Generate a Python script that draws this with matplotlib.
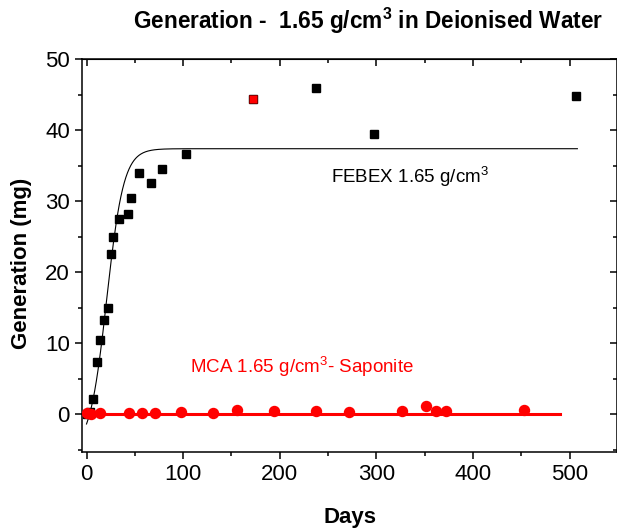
import numpy as np
import matplotlib
matplotlib.use("Agg")
import matplotlib.pyplot as plt
from matplotlib.ticker import MultipleLocator

plt.rcParams['font.family'] = ['Liberation Sans', 'DejaVu Sans']
plt.rcParams['mathtext.fontset'] = 'custom'
plt.rcParams['mathtext.rm'] = 'Liberation Sans'
plt.rcParams['mathtext.bf'] = 'Liberation Sans:bold'

W, H = 617, 529

# FEBEX 1.65 g/cm3 (black squares)
febex_days = [0, 4, 7, 11, 14, 17.7, 21.8, 25, 27.7, 34, 42.6, 46, 54.6, 67, 78, 103,
              172.7, 238, 298, 507]
febex_gen = [0.0, 0.3, 2.1, 7.35, 10.5, 13.3, 15.0, 22.5, 25.0, 27.5, 28.2, 30.4, 34.0,
             32.5, 34.5, 36.6, 44.35, 45.9, 39.5, 44.8]

# highlighted point (red square)
red_day = [172.7]
red_gen = [44.35]

# MCA 1.65 g/cm3 - Saponite (red circles)
mca_days = [0, 5, 14, 44, 57, 71, 98, 131, 156, 194, 237, 272, 327, 351, 362, 372, 453]
mca_gen = [0.1, 0.0, 0.1, 0.1, 0.1, 0.1, 0.3, 0.2, 0.6, 0.4, 0.5, 0.3, 0.4, 1.1, 0.4, 0.4, 0.6]

# Boltzmann fit of FEBEX data (parameters)
fit_A1, fit_A2, fit_x0, fit_dx = -5.0, 37.4, 20.9, 8.8
fit_range = (0, 508)
# linear fit of MCA data
mca_fit_range = (0, 490)
mca_fit_level = 0.05

fig = plt.figure(figsize=(6.17, 5.29), dpi=100)
ax = fig.add_axes([0.1324, 0.1461, 0.8676, 0.7418])

xf = np.linspace(fit_range[0], fit_range[1], 600)
yf = fit_A2 + (fit_A1 - fit_A2) / (1 + np.exp((xf - fit_x0) / fit_dx))
ax.plot(xf, yf, color='black', lw=0.8, zorder=2)
ax.plot(mca_fit_range, [mca_fit_level, mca_fit_level], color='red', lw=2.2, zorder=2)

ax.plot(febex_days, febex_gen, 's', color='black', ms=6.2, zorder=3)
ax.plot(red_day, red_gen, 's', color='red', mec='#8b0000', mew=0.6, ms=6.2, zorder=4)
ax.plot(mca_days, mca_gen, 'o', color='red', ms=7.2, zorder=3)

ax.set_xlim(-5, 549)
ax.set_ylim(-5.3, 50)
ax.xaxis.set_major_locator(MultipleLocator(100))
ax.xaxis.set_minor_locator(MultipleLocator(50))
ax.yaxis.set_major_locator(MultipleLocator(10))
ax.yaxis.set_minor_locator(MultipleLocator(5))

for s in ax.spines.values():
    s.set_linewidth(1.1)
ax.tick_params(which='both', direction='out', top=False, right=False, labelsize=16, width=1.1)
ax.tick_params(which='major', length=5)
ax.tick_params(which='minor', length=3)

# inward ticks on top and right
ax_top = ax.secondary_xaxis('top')
ax_top.xaxis.set_major_locator(MultipleLocator(100))
ax_top.xaxis.set_minor_locator(MultipleLocator(50))
ax_top.tick_params(which='both', direction='in', labeltop=False, width=1.1)
ax_top.tick_params(which='major', length=5)
ax_top.tick_params(which='minor', length=3)
ax_right = ax.secondary_yaxis('right')
ax_right.yaxis.set_major_locator(MultipleLocator(10))
ax_right.yaxis.set_minor_locator(MultipleLocator(5))
ax_right.tick_params(which='both', direction='in', labelright=False, width=1.1)
ax_right.tick_params(which='major', length=5)
ax_right.tick_params(which='minor', length=3)

fig.text(331 / W, 1 - 176.7 / H, r'FEBEX 1.65 g/cm$^3$', fontsize=13.5,
         color='black', va='center', ha='left')
fig.text(190 / W, 1 - 366.7 / H, r'MCA 1.65 g/cm$^3$- Saponite', fontsize=13.5,
         color='red', va='center', ha='left')

fig.text(368.5 / W, 1 - 21 / H, r'Generation -  1.65 g/cm$^{\mathbf{3}}$ in Deionised Water',
         fontsize=16.3, fontweight='bold', ha='center', va='center')
fig.text(350 / W, 1 - 517 / H, 'Days', fontsize=16, fontweight='bold', ha='center', va='center')
fig.text(22 / W, 1 - 263 / H, 'Generation (mg)', fontsize=16, fontweight='bold',
         rotation=90, ha='center', va='center')

fig.savefig('out.png', dpi=100)
